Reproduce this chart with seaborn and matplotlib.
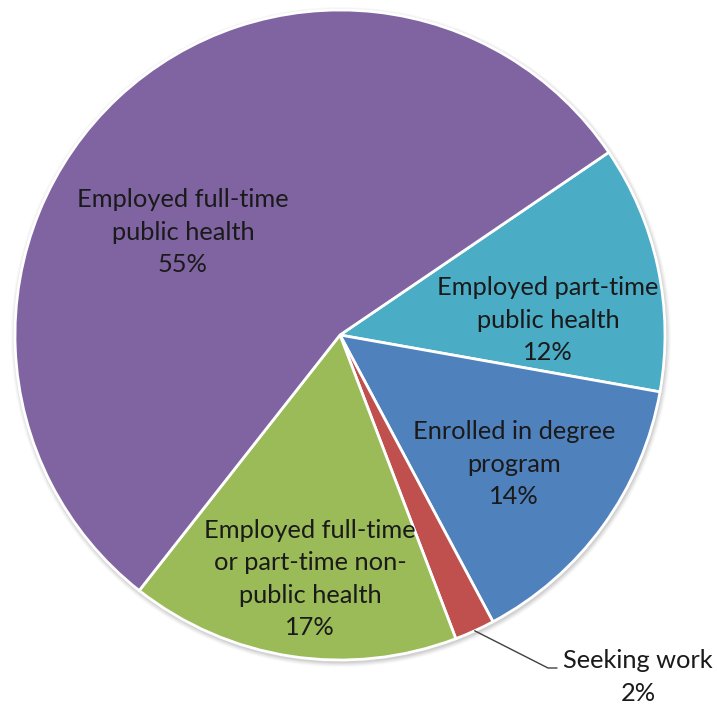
import matplotlib
matplotlib.use("Agg")
import matplotlib.pyplot as plt
from matplotlib.patches import Circle
import seaborn as sns
import numpy as np

# Data (slice shares; printed labels as shown)
categories = [
    "Employed part-time\npublic health",
    "Enrolled in degree\nprogram",
    "Seeking work",
    "Employed full-time\nor part-time non-\npublic health",
    "Employed full-time\npublic health",
]
values = [12.3, 14.4, 2.0, 16.4, 54.9]
pct_labels = ["12%", "14%", "2%", "17%", "55%"]
colors = ["#4BACC6", "#4F81BD", "#C0504D", "#9BBB59", "#8064A2"]

sns.set_theme(style="white")
plt.rcParams["font.family"] = ["Lato", "DejaVu Sans"]

W, H = 717, 707
fig = plt.figure(figsize=(W / 100, H / 100), dpi=100)
ax = fig.add_axes([0, 0, 1, 1])

cx, cy, R = 340, 335, 325

# soft shadow under the pie
for k, a in zip(range(5, 0, -1), [0.04, 0.06, 0.08, 0.10, 0.12]):
    ax.add_patch(Circle((cx + 1, cy + 2), R + k, color="#7f7f7f", alpha=a, lw=0, zorder=0))

wedges, _ = ax.pie(
    values, colors=colors, startangle=-34.2, counterclock=True,
    center=(cx, cy), radius=R, frame=True,
    wedgeprops=dict(edgecolor="white", linewidth=2, zorder=1),
)
ax.set_xlim(0, W)
ax.set_ylim(H, 0)
ax.set_aspect("equal")
ax.axis("off")

# label text (layout positions in pixel coords)
label_pos = [(548, 320), (514, 464), (638, 677), (310, 579), (183, 232)]
fs = 18.3
for cat, p, (x, y) in zip(categories, pct_labels, label_pos):
    ax.text(x, y, f"{cat}\n{p}", ha="center", va="center", fontsize=fs,
            color="#1a1a1a", linespacing=1.5, zorder=3)

# leader line for small slice
w = wedges[2]
mid = np.deg2rad((w.theta1 + w.theta2) / 2)
px, py = cx + R * np.cos(mid), cy + R * np.sin(mid)
ax.plot([px, 548, 557], [py, 668, 668], color="#404040", lw=1, zorder=3)

fig.savefig("out.png", dpi=100)
